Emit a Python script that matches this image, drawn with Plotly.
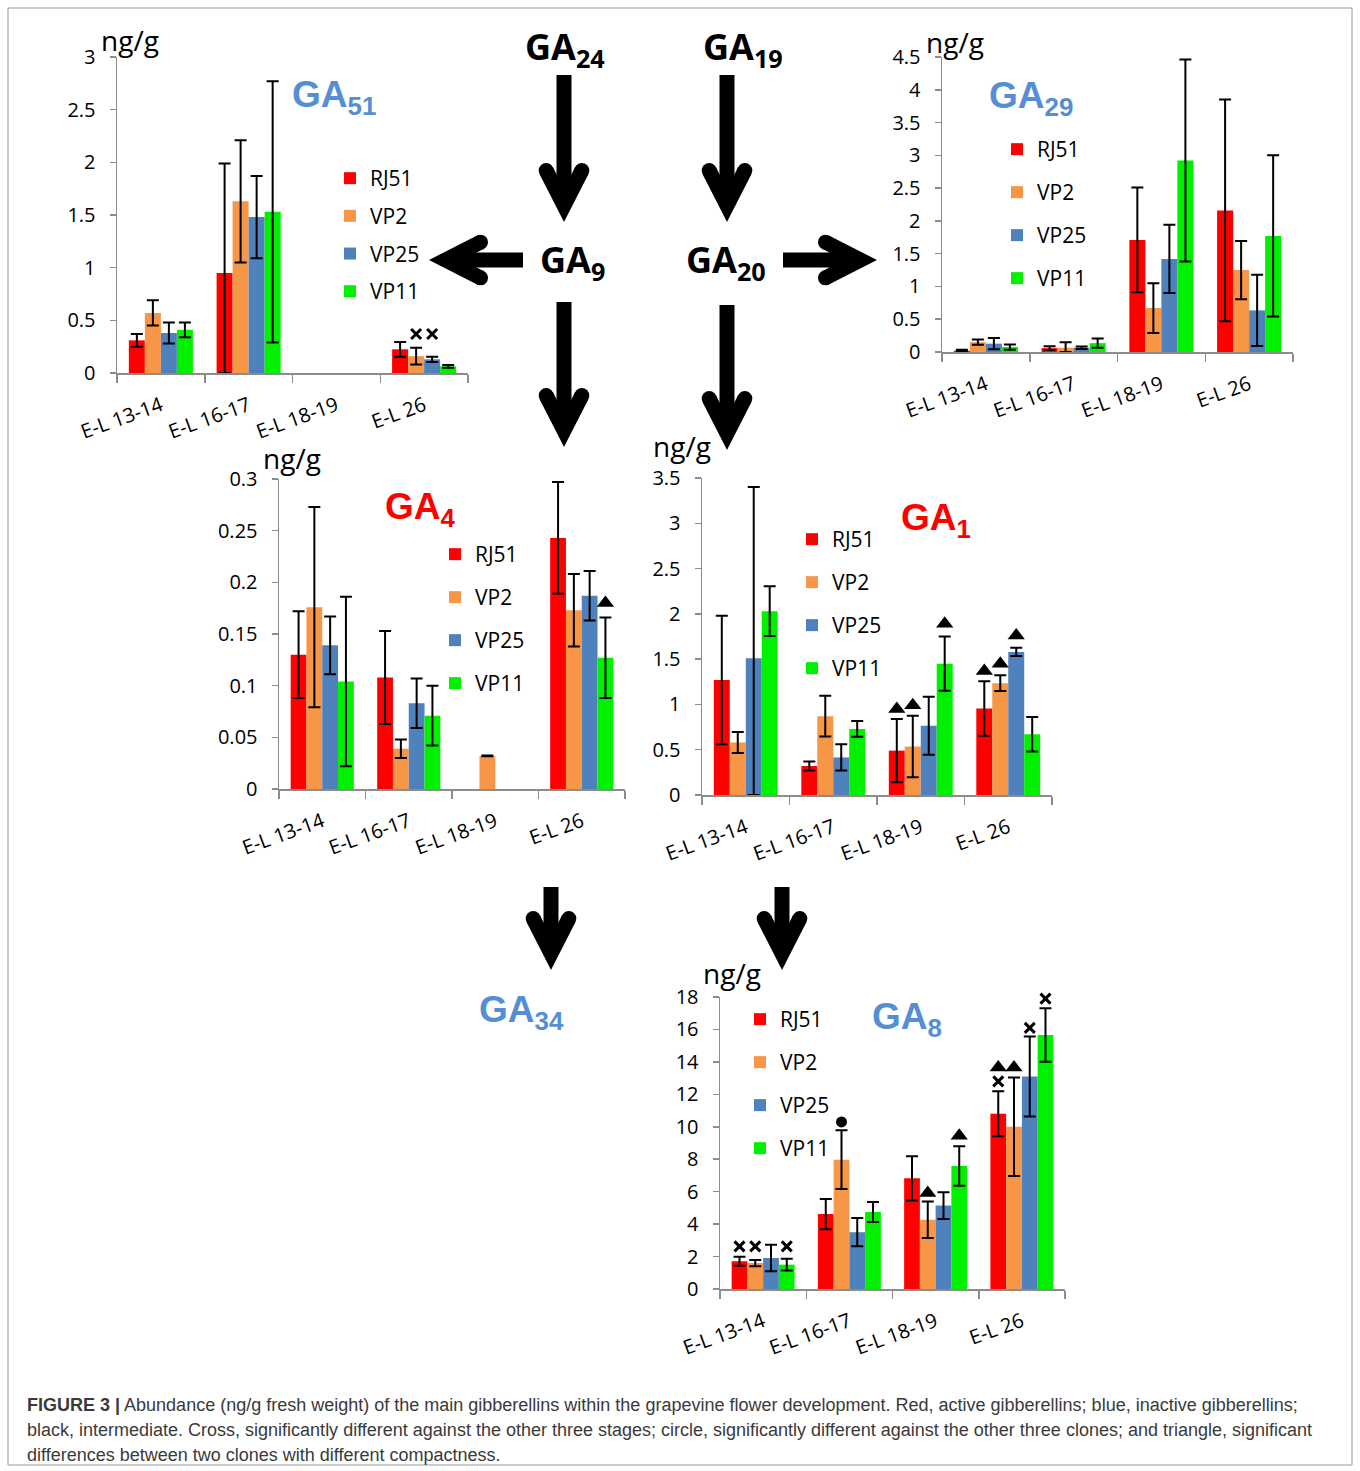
import math
import plotly.graph_objects as go

W, H = 1360, 1471


def px(x):
    return x / W


def py(y):
    return 1 - y / H


# ---------------- data ----------------
stages = ["E-L 13-14", "E-L 16-17", "E-L 18-19", "E-L 26"]
clones = ["RJ51", "VP2", "VP25", "VP11"]

# GA51 (ng/g): rows = clones RJ51, VP2, VP25, VP11 ; cols = stages
ga51_mean = [[0.31, 0.95, None, 0.225],
             [0.57, 1.63, None, 0.16],
             [0.38, 1.48, None, 0.13],
             [0.41, 1.53, None, 0.063]]
ga51_sd = [[0.06, 1.04, None, 0.07],
           [0.12, 0.58, None, 0.08],
           [0.10, 0.39, None, 0.025],
           [0.07, 1.24, None, 0.014]]
ga51_marks = [("x", 3, 1, 0.37), ("x", 3, 2, 0.37)]

# GA29
ga29_mean = [[0.02, 0.06, 1.71, 2.16],
             [0.15, 0.065, 0.67, 1.25],
             [0.127, 0.065, 1.42, 0.635],
             [0.076, 0.135, 2.92, 1.77]]
ga29_sd = [[0.015, 0.028, 0.80, 1.69],
           [0.04, 0.085, 0.38, 0.445],
           [0.085, 0.02, 0.52, 0.545],
           [0.04, 0.07, 1.54, 1.23]]
ga29_marks = []

# GA4
ga4_mean = [[0.130, 0.108, None, 0.243],
            [0.176, 0.039, 0.032, 0.173],
            [0.139, 0.083, None, 0.187],
            [0.104, 0.071, None, 0.127]]
ga4_sd = [[0.042, 0.045, None, 0.054],
          [0.097, 0.009, 0.0004, 0.035],
          [0.028, 0.024, None, 0.024],
          [0.082, 0.029, None, 0.039]]
ga4_marks = [("tri", 3, 0, 0.309), ("tri", 3, 3, 0.180)]

# GA1
ga1_mean = [[1.27, 0.32, 0.49, 0.955],
            [0.58, 0.87, 0.535, 1.235],
            [1.51, 0.415, 0.765, 1.58],
            [2.03, 0.73, 1.45, 0.67]]
ga1_sd = [[0.71, 0.05, 0.35, 0.30],
          [0.115, 0.225, 0.34, 0.087],
          [1.89, 0.145, 0.32, 0.045],
          [0.275, 0.088, 0.30, 0.19]]
ga1_marks = [("tri", 2, 0, 0.95), ("tri", 2, 1, 0.99), ("tri", 2, 3, 1.89),
             ("tri", 3, 0, 1.37), ("tri", 3, 1, 1.45), ("tri", 3, 2, 1.76)]

# GA8
ga8_mean = [[1.71, 4.62, 6.82, 10.8],
            [1.60, 7.97, 4.27, 10.0],
            [1.91, 3.50, 5.14, 13.1],
            [1.50, 4.75, 7.58, 15.66]]
ga8_sd = [[0.28, 0.93, 1.36, 1.39],
          [0.19, 1.81, 1.12, 3.03],
          [0.82, 0.87, 0.82, 2.47],
          [0.36, 0.62, 1.22, 1.65]]
ga8_marks = [("x", 0, 0, 2.63), ("x", 0, 1, 2.63), ("x", 0, 3, 2.63),
             ("dot", 1, 1, 10.3),
             ("tri", 2, 1, 5.92), ("tri", 2, 3, 9.45),
             ("x", 3, 0, 12.8), ("tri", 3, 0, 13.65), ("tri", 3, 1, 13.65),
             ("x", 3, 2, 16.1), ("x", 3, 3, 17.9), ("tri", 3, 3, 18.76)]

caption_lines = [
    "<b>FIGURE 3 |</b> Abundance (ng/g fresh weight) of the main gibberellins within the grapevine flower development. Red, active gibberellins; blue, inactive gibberellins;",
    "black, intermediate. Cross, significantly different against the other three stages; circle, significantly different against the other three clones; and triangle, significant",
    "differences between two clones with different compactness.",
]

# ---------------- styles ----------------
clone_colors = ["#FF0000", "#F79646", "#4F81BD", "#00F000"]
BLUE_T = "#558ED5"
RED_T = "#FF0000"
AXIS_GRAY = "#8C8C8C"
FONT = "Open Sans"
BARGAP = 0.27
LEG_ITEM_H = 30.3

charts = [
    dict(name="51", color=BLUE_T, mean=ga51_mean, sd=ga51_sd, marks=ga51_marks,
         xd=(117, 468), yd=(57, 373), top=3, dtick=0.5,
         title_xy=(334, 97), ngg_xy=(130, 40), leg=(350, 175, 37.7)),
    dict(name="29", color=BLUE_T, mean=ga29_mean, sd=ga29_sd, marks=ga29_marks,
         xd=(942, 1293), yd=(57, 352), top=4.5, dtick=0.5,
         title_xy=(1031, 98), ngg_xy=(955, 42), leg=(1017, 146, 43)),
    dict(name="4", color=RED_T, mean=ga4_mean, sd=ga4_sd, marks=ga4_marks,
         xd=(279, 625), yd=(479, 789), top=0.3, dtick=0.05,
         title_xy=(420, 509), ngg_xy=(292, 458), leg=(455, 551, 43)),
    dict(name="1", color=RED_T, mean=ga1_mean, sd=ga1_sd, marks=ga1_marks,
         xd=(702, 1052), yd=(478, 795), top=3.5, dtick=0.5,
         title_xy=(936, 520), ngg_xy=(682, 446), leg=(812, 536, 43)),
    dict(name="8", color=BLUE_T, mean=ga8_mean, sd=ga8_sd, marks=ga8_marks,
         xd=(720, 1065), yd=(997, 1289), top=18, dtick=2,
         title_xy=(907, 1019), ngg_xy=(732, 973), leg=(760, 1016, 43)),
]

fig = go.Figure()
annotations = []
shapes = []
layout_extra = {}

bar_w = (1 - BARGAP) / len(clones)
mark_style = {
    "x": dict(symbol="x-thin", size=10, line=dict(width=3, color="black")),
    "tri": dict(symbol="triangle-up", size=15, line=dict(width=0)),
    "dot": dict(symbol="circle", size=11, line=dict(width=0)),
}

for i, ch in enumerate(charts, start=1):
    xa = "x" if i == 1 else f"x{i}"
    ya = "y" if i == 1 else f"y{i}"
    leg = "legend" if i == 1 else f"legend{i}"
    for k, cl in enumerate(clones):
        vals = ch["mean"][k]
        sds = ch["sd"][k]
        plus = [s if s is not None else 0 for s in sds]
        minus = [min(s, v) if (s is not None and v is not None) else 0
                 for s, v in zip(sds, vals)]
        fig.add_trace(go.Bar(
            x=list(range(len(stages))), y=vals, name=cl,
            marker=dict(color=clone_colors[k], line=dict(width=0)),
            error_y=dict(type="data", symmetric=False, array=plus,
                         arrayminus=minus, color="black", thickness=2, width=6),
            xaxis=xa, yaxis=ya, legend=leg, legendgroup=f"g{i}_{k}",
            hoverinfo="skip"))
    # significance markers
    for sym in ("x", "tri", "dot"):
        mx = [m[1] + (m[2] - 1.5) * bar_w for m in ch["marks"] if m[0] == sym]
        my = [m[3] for m in ch["marks"] if m[0] == sym]
        if mx:
            fig.add_trace(go.Scatter(
                x=mx, y=my, mode="markers", showlegend=False,
                marker=dict(color="black", **mark_style[sym]),
                cliponaxis=False, xaxis=xa, yaxis=ya, hoverinfo="skip"))

    x0, x1 = ch["xd"]
    ytop, ybot = ch["yd"]
    layout_extra[f"xaxis{'' if i == 1 else i}"] = dict(
        domain=[px(x0), px(x1)], anchor=ya, range=[-0.5, len(stages) - 0.5],
        tickmode="array", tickvals=list(range(len(stages))), ticktext=stages,
        ticks="", tickangle=-20, ticklabelstandoff=12,
        showline=True, linecolor=AXIS_GRAY, linewidth=1.5,
        showgrid=False, zeroline=False, automargin=False,
        tickfont=dict(family=FONT, size=20, color="black"),
        minor=dict(tickmode="array", tickvals=[j - 0.5 for j in range(len(stages) + 1)],
                   ticks="outside", ticklen=8, tickcolor=AXIS_GRAY, tickwidth=1.5),
        fixedrange=True)
    layout_extra[f"yaxis{'' if i == 1 else i}"] = dict(
        domain=[py(ybot), py(ytop)], anchor=xa, range=[0, ch["top"]],
        dtick=ch["dtick"], tick0=0, ticks="outside", ticklen=6,
        ticklabelstandoff=10, automargin=False,
        tickcolor=AXIS_GRAY, tickwidth=1.5, showline=True, linecolor=AXIS_GRAY,
        linewidth=1.5, showgrid=False, zeroline=False,
        tickfont=dict(family=FONT, size=20, color="black"), fixedrange=True)
    lx, ly, lsp = ch["leg"]
    layout_extra[leg] = dict(
        x=px(lx - 20), y=py(ly - 17), xanchor="left", yanchor="top",
        orientation="v", bgcolor="rgba(0,0,0,0)", borderwidth=0,
        font=dict(family=FONT, size=21, color="black"),
        tracegroupgap=lsp - LEG_ITEM_H, itemclick=False, itemdoubleclick=False)
    tx, ty = ch["title_xy"]
    annotations.append(dict(
        text=f"<b>GA<sub>{ch['name']}</sub></b>", x=px(tx), y=py(ty),
        xref="paper", yref="paper", showarrow=False, xanchor="center", yanchor="middle",
        font=dict(family="Liberation Sans", size=37, color=ch["color"])))
    nx, ny = ch["ngg_xy"]
    annotations.append(dict(
        text="ng/g", x=px(nx), y=py(ny), xref="paper", yref="paper", showarrow=False,
        xanchor="center", yanchor="middle",
        font=dict(family=FONT, size=28, color="black")))

# GA34 label (no chart)
annotations.append(dict(
    text="<b>GA<sub>34</sub></b>", x=px(521), y=py(1012), xref="paper", yref="paper",
    showarrow=False, xanchor="center", yanchor="middle",
    font=dict(family="Liberation Sans", size=37, color=BLUE_T)))

# pathway intermediates
for txt, cx, cy in [("24", 565, 48), ("19", 743, 48), ("9", 572, 262), ("20", 726, 262)]:
    annotations.append(dict(
        text=f"<b>GA<sub>{txt}</sub></b>", x=px(cx), y=py(cy), xref="paper", yref="paper",
        showarrow=False, xanchor="center", yanchor="middle",
        font=dict(family=FONT, size=36, color="black")))


# arrows: shaft + chevron head
def arrow(sx, sy, tx, ty, t=15, phi_deg=27, arm=54):
    dx, dy = tx - sx, ty - sy
    L = math.hypot(dx, dy)
    d = (dx / L, dy / L)
    p = (-d[1], d[0])
    ex, ey = tx - d[0] * 16, ty - d[1] * 16
    polys = [[(sx + p[0] * t / 2, sy + p[1] * t / 2), (ex + p[0] * t / 2, ey + p[1] * t / 2),
              (ex - p[0] * t / 2, ey - p[1] * t / 2), (sx - p[0] * t / 2, sy - p[1] * t / 2)]]
    phi = math.radians(phi_deg)
    c, s = math.cos(phi), math.sin(phi)
    tip = (tx, ty)
    for sign in (1, -1):
        u = (-d[0] * c + sign * p[0] * s, -d[1] * c + sign * p[1] * s)
        n = (-d[0] * s - sign * p[0] * c, -d[1] * s - sign * p[1] * c)
        s0 = t / math.tan(phi)
        a_out = (tip[0] + u[0] * arm, tip[1] + u[1] * arm)
        a_in = (tip[0] + n[0] * t + u[0] * arm, tip[1] + n[1] * t + u[1] * arm)
        inner = (tip[0] + n[0] * t + u[0] * s0, tip[1] + n[1] * t + u[1] * s0)
        polys.append([tip, a_out, a_in, inner])
        cc = (tip[0] + n[0] * t / 2 + u[0] * arm, tip[1] + n[1] * t / 2 + u[1] * arm)
        shapes.append(dict(type="circle", xref="paper", yref="paper",
                           x0=px(cc[0] - t / 2), x1=px(cc[0] + t / 2),
                           y0=py(cc[1] + t / 2), y1=py(cc[1] - t / 2),
                           fillcolor="black", line=dict(width=0)))
    for poly in polys:
        path = "M " + " L ".join(f"{px(x):.5f},{py(y):.5f}" for x, y in poly) + " Z"
        shapes.append(dict(type="path", path=path, xref="paper", yref="paper",
                           fillcolor="black", line=dict(width=0)))


arrow(564, 75, 564, 222)
arrow(727, 75, 727, 222)
arrow(523, 260, 429, 260)
arrow(783, 260, 877, 260)
arrow(564, 302, 564, 447)
arrow(727, 305, 727, 450)
arrow(551, 887, 551, 970)
arrow(782, 887, 782, 970)

# frame
shapes.append(dict(type="rect", xref="paper", yref="paper",
                   x0=px(8), x1=px(1352), y0=py(1465), y1=py(8),
                   line=dict(color="#9A9A9A", width=1), fillcolor="rgba(0,0,0,0)"))

# caption
for j, line in enumerate(caption_lines):
    annotations.append(dict(
        text=line, x=px(25), y=py(1405 + 25 * j), xref="paper", yref="paper",
        showarrow=False, xanchor="left", yanchor="middle", align="left",
        font=dict(family="Liberation Sans", size=18, color="#3A3A3A")))

fig.update_layout(
    width=W, height=H, margin=dict(l=0, r=0, t=0, b=0, autoexpand=False),
    paper_bgcolor="white", plot_bgcolor="rgba(0,0,0,0)",
    barmode="group", bargap=BARGAP, bargroupgap=0,
    annotations=annotations, shapes=shapes, showlegend=True,
    font=dict(family=FONT, color="black"),
    **layout_extra)

fig.write_html("out.html", config={"displayModeBar": False, "staticPlot": True},
               post_script="document.body.style.margin='0';")
